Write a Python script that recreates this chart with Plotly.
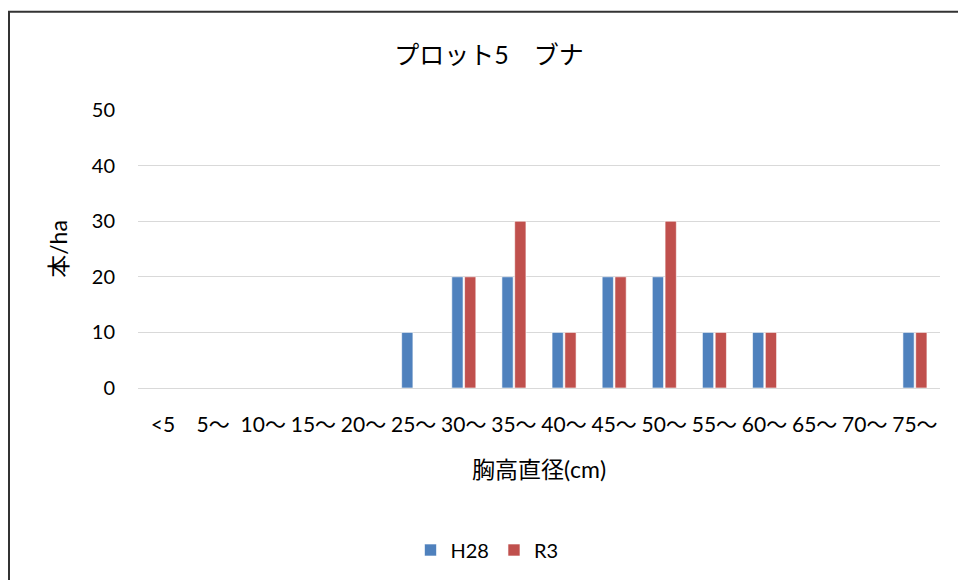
import plotly.graph_objects as go

# Diameter classes (cm) and stems per hectare for the two survey years
categories = ["<5", "5～", "10～", "15～", "20～", "25～", "30～", "35～",
              "40～", "45～", "50～", "55～", "60～", "65～", "70～", "75～"]
h28 = [0, 0, 0, 0, 0, 10, 20, 20, 10, 20, 20, 10, 10, 0, 0, 10]
r3 = [0, 0, 0, 0, 0, 0, 20, 30, 10, 20, 30, 10, 10, 0, 0, 10]
y_ticks = [0, 10, 20, 30, 40, 50]

FONT = "Lato, 'Noto Sans CJK JP', sans-serif"
W, H = 958, 580
L, R, T, B = 138, 18, 110, 191

fig = go.Figure()
fig.add_trace(go.Bar(
    x=categories, y=h28, name="H28",
    marker=dict(color="#4F81BD", line=dict(color="rgba(255,255,255,0.6)", width=1)),
))
fig.add_trace(go.Bar(
    x=categories, y=r3, name="R3",
    marker=dict(color="#C0504D", line=dict(color="rgba(255,255,255,0.6)", width=1)),
))

pw, ph = W - L - R, H - T - B

def px_x(x):
    return (x - L) / pw

def px_y(y):
    return (H - B - y) / ph

# chart-area frame (left and top edges visible)
fig.add_shape(type="rect", xref="paper", yref="paper",
              x0=px_x(9), x1=px_x(975), y0=px_y(11.5), y1=px_y(600),
              line=dict(color="#333333", width=2), fillcolor="rgba(0,0,0,0)",
              layer="below")

fig.update_layout(
    width=W, height=H,
    margin=dict(l=L, r=R, t=T, b=B),
    paper_bgcolor="white", plot_bgcolor="white",
    barmode="group", bargap=0.49, bargroupgap=0.12,
    font=dict(family=FONT, color="#000000", size=20),
    title=dict(text="プロット5　ブナ", x=489 / W, xref="container", xanchor="center",
               y=1 - 55 / H, yref="container", yanchor="middle",
               font=dict(size=25, family=FONT, color="#000000")),
    xaxis=dict(
        type="category", showgrid=False, showline=False, zeroline=False,
        ticks="", ticklabelstandoff=22,
        tickfont=dict(size=21, family=FONT),
        title=dict(text="胸高直径(cm)", font=dict(size=23, family=FONT), standoff=26),
    ),
    yaxis=dict(
        range=[0, 50], tickvals=y_ticks, showgrid=True, gridcolor="#D9D9D9",
        gridwidth=1, zeroline=True, zerolinecolor="#D9D9D9", zerolinewidth=1,
        showline=False, ticks="", ticklabelstandoff=22,
        tickfont=dict(size=20, family=FONT),
        title=dict(text="本/ha", font=dict(size=23, family=FONT), standoff=17),
    ),
    legend=dict(orientation="h", x=(487 - L) / pw, xanchor="center",
                y=px_y(550), yanchor="middle",
                font=dict(size=20, family=FONT), itemwidth=30,
                bgcolor="rgba(0,0,0,0)"),
    showlegend=True,
)

fig.write_html("out.html")
